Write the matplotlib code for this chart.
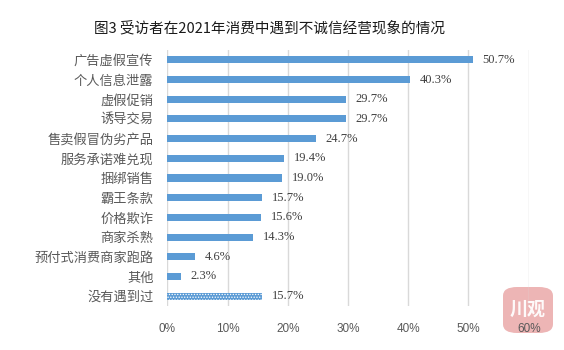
import matplotlib
matplotlib.use("Agg")
import matplotlib.pyplot as plt
from matplotlib.patches import FancyBboxPatch
from matplotlib.ticker import FuncFormatter

title = "图3 受访者在2021年消费中遇到不诚信经营现象的情况"
categories = ["广告虚假宣传", "个人信息泄露", "虚假促销", "诱导交易", "售卖假冒伪劣产品",
              "服务承诺难兑现", "捆绑销售", "霸王条款", "价格欺诈", "商家杀熟",
              "预付式消费商家跑路", "其他", "没有遇到过"]
values = [50.7, 40.3, 29.7, 29.7, 24.7, 19.4, 19.0, 15.7, 15.6, 14.3, 4.6, 2.3, 15.7]
xticks = [0, 10, 20, 30, 40, 50, 60]

plt.rcParams['font.family'] = ['Noto Sans CJK SC', 'DejaVu Sans']
plt.rcParams['hatch.linewidth'] = 0.6

fig = plt.figure(figsize=(5.64, 3.5), dpi=100)
ax = fig.add_axes([0.2966, 0.1257, 0.6408, 0.7314])
ax.patch.set_alpha(0)

blue = "#5B9BD5"
ypos = list(range(len(categories)))
bars = ax.barh(ypos, values, height=0.36, color=blue, zorder=3)
# the "none" answer is drawn with a dotted fill
last = bars[-1]
last.set_hatch("......")
last.set_edgecolor("white")
last.set_linewidth(0)

for y, v in zip(ypos, values):
    ax.annotate(f"{v:.1f}%", xy=(v, y), xytext=(7, 0), textcoords="offset points",
                va="center", ha="left", fontsize=9, color="#404040",
                family="Liberation Serif")

ax.set_xlim(0, 60)
ax.set_ylim(len(categories) - 0.5, -0.5)
ax.set_xticks(xticks)
ax.xaxis.set_major_formatter(FuncFormatter(lambda v, p: f"{v:.0f}%"))
ax.set_yticks(ypos)
ax.set_yticklabels(categories, fontsize=9.5, color="#595959")
ax.tick_params(axis="y", length=0, pad=10)
ax.tick_params(axis="x", length=0, pad=12, labelsize=8.5, labelcolor="#595959")
for lab in ax.get_xticklabels():
    lab.set_family("Liberation Sans")
ax.grid(axis="x", color="#D9D9D9", linewidth=1, zorder=0)
for s in ax.spines.values():
    s.set_visible(False)

fig.text(270 / 564, 1 - 28 / 350, title, ha="center", va="center",
         fontsize=10.5, color="#1a1a1a", fontweight="light")

# logo badge in the lower right corner, behind the axes content
badge = FancyBboxPatch((503 / 564, 1 - 333 / 350), 50 / 564, 46 / 350,
                       boxstyle="round,pad=0,rounding_size=0.025",
                       transform=fig.transFigure, facecolor="#EDB5B5",
                       edgecolor="none", zorder=-5)
fig.add_artist(badge)
fig.text(528 / 564, 1 - 309 / 350, "川观", ha="center", va="center",
         fontsize=13, color="white", fontweight="bold", alpha=0.95, zorder=-4)

fig.savefig("out.png", dpi=100)
